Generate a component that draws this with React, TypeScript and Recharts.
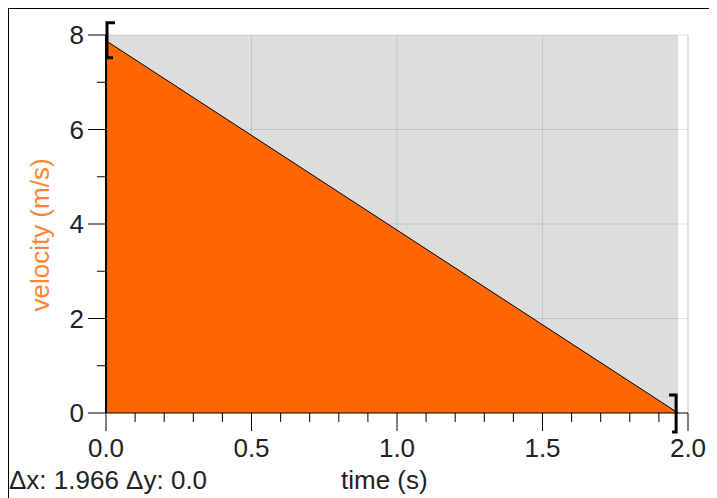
import { ComposedChart, Area, Line, XAxis, YAxis, ReferenceArea, ReferenceLine } from "recharts";

// time (s) and velocity (m/s) at the two bracketed ends of the selection
const times = [0, 1.966];
const velocities = [7.88, 0];

const xTicks = [0, 0.1, 0.2, 0.3, 0.4, 0.5, 0.6, 0.7, 0.8, 0.9, 1.0, 1.1, 1.2, 1.3, 1.4, 1.5, 1.6, 1.7, 1.8, 1.9, 2.0];
const xMajor = [0, 0.5, 1.0, 1.5, 2.0];
const yTicks = [0, 1, 2, 3, 4, 5, 6, 7, 8];
const yMajor = [0, 2, 4, 6, 8];
const xGrid = [0.5, 1.0, 1.5, 2.0];
const yGrid = [2, 4, 6, 8];

const data = times.map((t, i) => ({ t, v: velocities[i] }));

const FONT = "'Liberation Sans', Arial, sans-serif";
const TEXT = "#222222";
const ORANGE = "#FF6600";

function isMajor(list: number[], v: number) {
  return list.some((m) => Math.abs(m - v) < 1e-6);
}

function XTick(props: any) {
  const { x, y, payload } = props;
  const major = isMajor(xMajor, payload.value);
  return (
    <g>
      <line x1={x} x2={x} y1={y} y2={y + (major ? 18 : 9)} stroke="#000" strokeWidth={1} />
      {major && (
        <text x={x} y={y + 44} textAnchor="middle" fontSize={26} fontFamily={FONT} fill={TEXT}>
          {payload.value.toFixed(1)}
        </text>
      )}
    </g>
  );
}

function YTick(props: any) {
  const { x, y, payload } = props;
  const major = isMajor(yMajor, payload.value);
  return (
    <g>
      <line x1={x - (major ? 18 : 9)} x2={x} y1={y} y2={y} stroke="#000" strokeWidth={1} />
      {major && (
        <text x={x - 22} y={y} dy="0.36em" textAnchor="end" fontSize={26} fontFamily={FONT} fill={TEXT}>
          {payload.value}
        </text>
      )}
    </g>
  );
}

// bracket markers at the selection ends
function Bracket(props: any) {
  const { cx, cy, index } = props;
  if (cx == null || cy == null) return null;
  if (index === 0) {
    return (
      <path
        key="b0"
        d={`M${cx + 9},${cy - 18} H${cx + 1} V${cy + 17} H${cx + 7}`}
        fill="none"
        stroke="#000"
        strokeWidth={3}
      />
    );
  }
  return (
    <path
      key="b1"
      d={`M${cx - 9},${cy - 18} H${cx - 2} V${cy + 19} H${cx - 6}`}
      fill="none"
      stroke="#000"
      strokeWidth={3}
    />
  );
}

export default function App() {
  return (
    <div
      style={{
        position: "relative",
        width: 710,
        height: 491,
        marginLeft: -1,
        marginTop: -1,
        borderTop: "2px solid #000",
        borderLeft: "2px solid #000",
        boxSizing: "border-box",
        fontFamily: FONT,
      }}
    >
      <ComposedChart
        width={700}
        height={480}
        data={data}
        margin={{ top: 26, right: 21, left: 0, bottom: 36 }}
      >
        <ReferenceArea
          x1={0}
          x2={1.966}
          y1={0}
          y2={8}
          fill="#DDDDDD"
          fillOpacity={1}
          stroke="none"
          zIndex={-80}
        />
        {xGrid.map((g) => (
          <ReferenceLine
            key={`x${g}`}
            x={g}
            stroke="#000"
            strokeOpacity={0.1}
            strokeWidth={g === 2 ? 2 : 1}
            zIndex={-60}
          />
        ))}
        {yGrid.map((g) => (
          <ReferenceLine key={`y${g}`} y={g} stroke="#000" strokeOpacity={0.1} strokeWidth={1} zIndex={-60} />
        ))}
        <XAxis
          dataKey="t"
          type="number"
          domain={[0, 2]}
          ticks={xTicks}
          interval={0}
          height={40}
          tickSize={0}
          tickMargin={0}
          tickLine={false}
          axisLine={{ stroke: "#000", strokeWidth: 1 }}
          tick={<XTick />}
        />
        <YAxis
          type="number"
          domain={[0, 8]}
          ticks={yTicks}
          interval={0}
          width={97}
          tickSize={0}
          tickMargin={0}
          tickLine={false}
          axisLine={{ stroke: "#000", strokeWidth: 2 }}
          tick={<YTick />}
        />
        <Area
          dataKey="v"
          type="linear"
          fill={ORANGE}
          fillOpacity={1}
          stroke="none"
          isAnimationActive={false}
        />
        <Line
          dataKey="v"
          type="linear"
          stroke="#000"
          strokeWidth={1}
          dot={Bracket}
          activeDot={false}
          isAnimationActive={false}
        />
      </ComposedChart>
      <div
        style={{
          position: "absolute",
          left: 31,
          top: 226,
          transform: "translate(-50%, -50%) rotate(-90deg)",
          color: "#FF8533",
          fontSize: 26,
          whiteSpace: "nowrap",
          lineHeight: 1,
        }}
      >
        velocity (m/s)
      </div>
      <div
        style={{
          position: "absolute",
          left: 332,
          top: 458,
          color: TEXT,
          fontSize: 26,
          whiteSpace: "nowrap",
          lineHeight: 1,
        }}
      >
        time (s)
      </div>
      <div
        style={{
          position: "absolute",
          left: 0,
          top: 458,
          color: TEXT,
          fontSize: 26,
          whiteSpace: "nowrap",
          lineHeight: 1,
        }}
      >
        Δx: 1.966 Δy: 0.0
      </div>
    </div>
  );
}
